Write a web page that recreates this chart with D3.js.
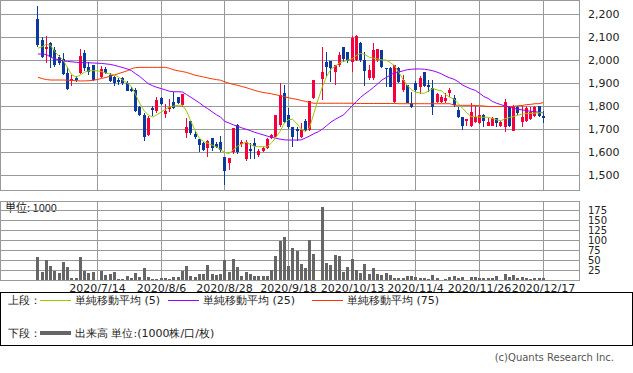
<!DOCTYPE html>
<html>
<head>
<meta charset="utf-8">
<script src="https://cdnjs.cloudflare.com/ajax/libs/d3/7.8.5/d3.min.js"></script>
<style>
  body { margin: 0; background: #fff; }
  text { font-family: "DejaVu Sans", sans-serif; }
  .jp { font-family: "Noto Sans CJK JP", sans-serif; }
</style>
</head>
<body>
<div id="chart"></div>
<script>
"use strict";

// trading days (index = candle slot)
var dates = [
  "6/24","6/25","6/26","6/29","6/30","7/1","7/2","7/3","7/6","7/7",
  "7/8","7/9","7/10","7/13","7/14","7/15","7/16","7/17","7/20","7/21",
  "7/22","7/27","7/28","7/29","7/30","7/31","8/3","8/4","8/5","8/6",
  "8/7","8/11","8/12","8/13","8/14","8/17","8/18","8/19","8/20","8/21",
  "8/24","8/25","8/26","8/27","8/28","8/31","9/1","9/2","9/3","9/4",
  "9/7","9/8","9/9","9/10","9/11","9/14","9/15","9/16","9/17","9/18",
  "9/23","9/24","9/25","9/28","9/29","9/30","10/1","10/2","10/5","10/6",
  "10/7","10/8","10/9","10/12","10/13","10/14","10/15","10/16","10/19","10/20",
  "10/21","10/22","10/23","10/26","10/27","10/28","10/29","10/30","11/2","11/4",
  "11/5","11/6","11/9","11/10","11/11","11/12","11/13","11/16","11/17","11/18",
  "11/19","11/20","11/24","11/25","11/26","11/27","11/30","12/1","12/2","12/3",
  "12/4","12/7","12/8","12/9","12/10","12/11","12/14","12/15","12/16","12/17"
];
var tickDates = ["7/14", "8/6", "8/28", "9/18", "10/13", "11/4", "11/26", "12/17"];

// null = no trade that day
var opens = [
  2178,2087,2049,2072,2043,2012,2003,1945,1910,1922,
  1945,2029,1971,1978,null,1925,1961,1935,1925,1913,
  1920,1899,1874,1870,1794,1761,1674,1790,1780,1836,
  1765,1786,1819,1838,1804,1681,1736,1677,1655,1638,
  1616,1662,1635,1645,1580,1554,1601,1716,1635,1568,
  1614,1638,1587,1606,1616,1659,1667,1717,1855,1760,
  1707,1700,1667,1736,1696,1835,null,1917,1993,1996,
  1949,1978,2058,2033,1990,2000,2075,2000,1920,1920,
  2000,2043,1967,1964,1819,1967,1870,1891,1812,1899,
  1881,1949,1891,1877,1819,1816,1823,1855,1833,1783,
  1754,1736,1713,1732,1728,1761,1715,1715,1749,1715,
  1710,1794,1693,1797,1732,1736,1742,1757,1800,1758
];
var highs = [
  2235,2101,2104,2080,2058,2020,2030,1970,1935,1932,
  2046,2043,1990,1980,null,1974,1968,1942,1932,1920,
  1926,1907,1883,1877,1800,1768,1755,1800,1838,1838,
  1807,1830,1862,1841,1851,1746,1736,1693,1655,1645,
  1652,1662,1645,1670,1580,1574,1706,1722,1652,1652,
  1638,1659,1612,1623,1659,1677,1761,1899,1891,1790,
  1710,1710,1725,1745,1820,1915,null,2058,2036,1996,
  1978,2036,2058,2033,2104,2109,2080,2036,1980,2072,
  2046,2043,1967,1971,1980,1971,1935,1891,1862,1910,
  1930,1949,1913,1913,1855,1848,1855,1877,1848,1794,
  1754,1743,1814,1800,1797,1765,1746,1751,1749,1736,
  1830,1800,1804,1800,1800,1800,1794,1800,1800,1778
];
var lows = [
  2058,2007,1988,1964,1971,1980,1935,1871,1887,1904,
  1939,1951,1935,1910,null,1920,1938,1904,1887,1891,
  1893,1864,1861,1775,1755,1649,1670,1757,1768,1803,
  1749,1775,1786,1807,1797,1659,1674,1655,1601,1606,
  1577,1606,1616,1601,1457,1522,1591,1591,1623,1560,
  1568,1568,1580,1601,1613,1655,1664,1710,1725,1700,
  1620,1650,1660,1690,1690,1830,null,1826,1928,1906,
  1891,1971,1993,1986,1950,1997,1990,1887,1915,1913,
  1993,1964,1884,1881,1815,1902,1862,1812,1790,1860,
  1852,1884,1862,1761,1815,1812,1812,1841,1797,1746,
  1696,1713,1710,1728,1722,1710,1713,1713,1707,1710,
  1688,1710,1691,1761,1710,1732,1739,1754,1754,1725
];
var closes = [
  2065,2014,2058,2014,1978,1988,1939,1875,1916,1913,
  2017,1964,1949,1913,null,1961,1942,1910,1899,1906,
  1899,1867,1867,1780,1761,1667,1749,1783,1826,1809,
  1778,1794,1790,1812,1851,1710,1681,1667,1630,1609,
  1649,1616,1623,1609,1519,1574,1706,1601,1645,1645,
  1604,1628,1606,1617,1655,1674,1761,1848,1732,1710,
  1667,1690,1697,1697,1820,1913,null,1949,1971,1964,
  1978,2022,2003,1997,2094,2104,2000,1954,1955,2043,
  2046,1971,1960,1884,1978,1906,1913,1812,1794,1870,
  1920,1887,1884,1794,1852,1841,1833,1870,1804,1751,
  1713,1743,1775,1754,1761,1736,1732,1746,1728,1729,
  1819,1713,1800,1768,1754,1790,1775,1797,1757,1746
];
// volume, 1000 shares
var volumes = [
  57,20,50,35,22,18,45,32,6,6,
  57,23,18,19,null,23,12,14,20,3,
  3,9,4,18,8,30,8,3,3,6,
  6,3,8,8,22,35,9,8,16,14,
  37,14,12,14,50,20,52,33,9,20,
  14,9,9,9,9,25,60,97,108,35,
  80,73,40,30,101,66,null,182,43,37,
  62,60,21,33,52,25,17,40,15,31,
  14,12,17,12,4,4,4,10,10,7,
  4,4,3,12,4,1,2,8,10,4,
  7,1,7,7,4,4,4,4,10,1,
  15,8,12,4,7,4,2,4,4,4
];

// moving averages
var ma5 = [
  2051,2058,2069,2063,2036,2016,1998,1965,1935,1926,
  1935,1947,1953,1954,1953,1950,1943,1939,1936,1925,
  1912,1900,1885,1850,1810,1780,1760,1752,1762,1773,
  1786,1796,1800,1803,1804,1778,1733,1695,1660,1645,
  1638,1630,1623,1610,1598,1593,1610,1625,1635,1643,
  1633,1625,1623,1623,1623,1640,1662,1690,1725,1741,
  1742,1722,1700,1688,1708,1770,1830,1885,1930,1960,
  1973,1987,1994,2000,2005,2020,2029,2024,2012,2008,
  2004,2000,2000,1988,1975,1945,1915,1888,1870,1860,
  1857,1855,1866,1876,1870,1866,1850,1838,1830,1810,
  1790,1770,1754,1753,1752,1751,1751,1746,1740,1736,
  1745,1750,1754,1760,1765,1767,1768,1769,1770,1771
];
var ma25 = [
  2026,2026,2024,2012,2005,2000,1996,1994,1992,1990,
  1989,1988,1988,1987,1986,1985,1983,1981,1977,1972,
  1967,1961,1954,1940,1928,1912,1897,1888,1881,1876,
  1870,1864,1862,1862,1861,1850,1838,1826,1814,1800,
  1788,1775,1762,1752,1733,1726,1718,1712,1705,1699,
  1693,1686,1680,1675,1669,1664,1660,1656,1653,1652,
  1652,1652,1653,1661,1670,1680,1688,1700,1715,1730,
  1742,1752,1762,1782,1800,1820,1838,1853,1866,1881,
  1896,1913,1924,1935,1945,1948,1953,1958,1960,1961,
  1961,1960,1957,1953,1947,1940,1930,1922,1916,1905,
  1891,1882,1874,1868,1855,1841,1833,1820,1812,1806,
  1800,1795,1790,1786,1783,1780,1777,1775,1773,1771
];
var ma75 = [
  1925,1919,1915,1913,1913,1913,1913,1912,1911,1910,
  1909,1909,1910,1912,1915,1920,1924,1930,1935,1941,
  1947,1953,1962,1967,1968,1968,1968,1968,1968,1968,
  1968,1964,1957,1953,1950,1946,1940,1934,1930,1926,
  1922,1918,1915,1912,1905,1899,1894,1890,1885,1880,
  1874,1868,1863,1859,1856,1853,1849,1845,1841,1836,
  1832,1829,1824,1820,1815,1812,1812,1812,1812,1812,
  1812,1812,1812,1812,1812,1811,1811,1811,1811,1811,
  1811,1811,1811,1811,1811,1810,1810,1810,1810,1810,
  1810,1810,1810,1810,1810,1810,1810,1810,1804,1803,
  1803,1803,1803,1802,1801,1800,1798,1798,1798,1798,
  1798,1798,1798,1801,1802,1806,1807,1810,1810,1815
];

var priceTicks = [1500, 1600, 1700, 1800, 1900, 2000, 2100, 2200];
var volTicks = [25, 50, 75, 100, 125, 150, 175];

var UP = "#f5003c", DOWN = "#0b3a9c", GRID = "#999";

var svg = d3.select("#chart")
  .append("svg")
  .attr("width", 633)
  .attr("height", 373)
  .style("display", "block");

var x = d3.scaleLinear().domain([-8.7, 127.4]).range([1, 579]);
var y = d3.scaleLinear().domain([1434.8, 2260.9]).range([190, 0]);
var yv = d3.scaleLinear().domain([0, 195.75]).range([280, 201.7]);
var px = function(i) { return Math.floor(x(i)) + 0.5; };

var tickIdx = tickDates.map(function(d) { return dates.indexOf(d); });
var idx = d3.range(dates.length);

svg.append("clipPath").attr("id", "clipP")
  .append("rect").attr("x", 1).attr("y", 1).attr("width", 578).attr("height", 189);

/* ---- price panel ---- */
var grid = svg.append("g").attr("shape-rendering", "crispEdges").attr("stroke", GRID);
grid.selectAll(".hp").data(priceTicks).enter().append("line")
  .attr("x1", 0.5).attr("x2", 579)
  .attr("y1", function(d) { return Math.round(y(d)) + 0.5; })
  .attr("y2", function(d) { return Math.round(y(d)) + 0.5; });
grid.selectAll(".vp").data(tickIdx).enter().append("line")
  .attr("x1", px).attr("x2", px)
  .attr("y1", 0.5).attr("y2", 190);
grid.append("rect")
  .attr("x", 0.5).attr("y", 0.5).attr("width", 578.5).attr("height", 190)
  .attr("fill", "none");

var candles = svg.append("g").attr("shape-rendering", "crispEdges")
  .selectAll("g").data(idx.filter(function(i) { return opens[i] != null; }))
  .enter().append("g");

candles.append("line")
  .attr("x1", px).attr("x2", px)
  .attr("y1", function(i) { return y(highs[i]); })
  .attr("y2", function(i) { return y(lows[i]); })
  .attr("stroke", function(i) { return closes[i] >= opens[i] ? UP : DOWN; });

candles.append("rect")
  .attr("x", function(i) { return Math.floor(x(i)) - 1; })
  .attr("width", 3)
  .attr("y", function(i) { return y(Math.max(opens[i], closes[i])); })
  .attr("height", function(i) { return Math.max(1, Math.abs(y(opens[i]) - y(closes[i]))); })
  .attr("fill", function(i) { return closes[i] >= opens[i] ? UP : DOWN; });

var maLine = function(arr) {
  return d3.line().x(function(i) { return x(i); }).y(function(i) { return y(arr[i]); });
};
var maG = svg.append("g").attr("clip-path", "url(#clipP)").attr("fill", "none").attr("stroke-width", 1);
maG.append("path").attr("d", maLine(ma75)(idx)).attr("stroke", "#ff3300");
maG.append("path").attr("d", maLine(ma25)(idx)).attr("stroke", "#9900ff");
maG.append("path").attr("d", maLine(ma5)(idx)).attr("stroke", "#99cc00");

svg.append("g").selectAll("text").data(priceTicks).enter().append("text")
  .attr("x", 588)
  .attr("y", function(d) { return y(d) + 4; })
  .attr("font-size", 11)
  .attr("fill", "#222")
  .text(d3.format(","));

/* ---- volume panel ---- */
svg.append("text")
  .attr("class", "jp")
  .attr("x", 5).attr("y", 212)
  .attr("font-size", 11)
  .attr("fill", "#222")
  .text("単位: 1000");

var vgrid = svg.append("g").attr("shape-rendering", "crispEdges").attr("stroke", GRID);
vgrid.selectAll(".hv").data(volTicks).enter().append("line")
  .attr("x1", 0.5).attr("x2", 579)
  .attr("y1", function(d) { return Math.round(yv(d)) + 0.5; })
  .attr("y2", function(d) { return Math.round(yv(d)) + 0.5; });
vgrid.selectAll(".vv").data(tickIdx).enter().append("line")
  .attr("x1", px).attr("x2", px)
  .attr("y1", 201.5).attr("y2", 280);
vgrid.append("rect")
  .attr("x", 0.5).attr("y", 201.5).attr("width", 578.5).attr("height", 78.5)
  .attr("fill", "none");

svg.append("g").attr("shape-rendering", "crispEdges")
  .selectAll("rect").data(idx.filter(function(i) { return volumes[i] != null; }))
  .enter().append("rect")
  .attr("x", function(i) { return Math.floor(x(i)) - 1; })
  .attr("width", 3)
  .attr("y", function(i) { return yv(volumes[i]); })
  .attr("height", function(i) { return 280 - yv(volumes[i]); })
  .attr("fill", "#666");

svg.append("g").selectAll("text").data(volTicks).enter().append("text")
  .attr("x", 588)
  .attr("y", function(d) { return yv(d) + 3.5; })
  .attr("font-size", 10)
  .attr("fill", "#222")
  .text(function(d) { return d; });

svg.append("g").selectAll("text").data(tickIdx).enter().append("text")
  .attr("x", px)
  .attr("y", 292)
  .attr("text-anchor", "middle")
  .attr("font-size", 11)
  .attr("fill", "#222")
  .text(function(i) { return "2020/" + dates[i]; });

/* ---- legend ---- */
var leg = svg.append("g").attr("class", "jp").attr("font-size", 11).attr("fill", "#222");
svg.append("rect")
  .attr("x", 0.5).attr("y", 292.5).attr("width", 632).attr("height", 53)
  .attr("fill", "none").attr("stroke", "#000").attr("shape-rendering", "crispEdges");

var legItems = [
  { x: 40, color: "#99cc00", label: "単純移動平均 (5)" },
  { x: 168, color: "#9900ff", label: "単純移動平均 (25)" },
  { x: 312, color: "#ff3300", label: "単純移動平均 (75)" }
];
leg.append("text").attr("x", 8).attr("y", 304).text("上段：");
legItems.forEach(function(d) {
  leg.append("line")
    .attr("x1", d.x).attr("x2", d.x + 31).attr("y1", 300.5).attr("y2", 300.5)
    .attr("stroke", d.color).attr("shape-rendering", "crispEdges");
  leg.append("text").attr("x", d.x + 35).attr("y", 304).text(d.label);
});
leg.append("text").attr("x", 8).attr("y", 337).text("下段：");
leg.append("line")
  .attr("x1", 40).attr("x2", 71).attr("y1", 333).attr("y2", 333)
  .attr("stroke", "#666").attr("stroke-width", 4);
leg.append("text").attr("x", 75).attr("y", 337).text("出来高 単位:(1000株/口/枚)");

svg.append("text")
  .attr("x", 614).attr("y", 361)
  .attr("text-anchor", "end")
  .attr("font-family", "Noto Sans")
  .attr("font-size", 10)
  .attr("fill", "#555")
  .text("(c)Quants Research Inc.");
</script>
</body>
</html>
